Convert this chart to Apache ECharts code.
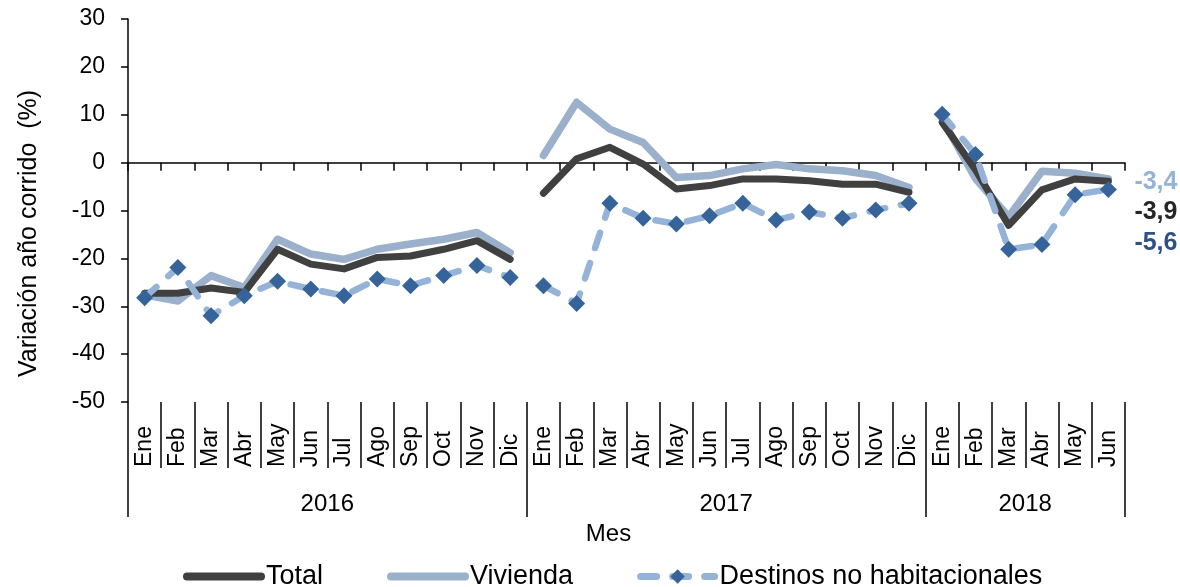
<!DOCTYPE html>
<html>
<head>
<meta charset="utf-8">
<script src="https://cdn.jsdelivr.net/npm/echarts@6/dist/echarts.min.js"></script>
<style>
html,body{margin:0;padding:0;background:#fff;}
#grafico{width:1180px;height:587px;}
</style>
</head>
<body>
<div id="grafico"></div>
<script>
//datos
var meses = ['Ene','Feb','Mar','Abr','May','Jun','Jul','Ago','Sep','Oct','Nov','Dic',
             'Ene','Feb','Mar','Abr','May','Jun','Jul','Ago','Sep','Oct','Nov','Dic',
             'Ene','Feb','Mar','Abr','May','Jun'];
var anios = ['2016','2017','2018'];
var mesesPorAnio = [12, 12, 6];
var total = [-27.3,-27.3,-26.2,-27.1,-18.1,-21.2,-22.2,-19.8,-19.5,-18.1,-16.3,-20.2,
             -6.4,0.8,3.2,-0.3,-5.5,-4.8,-3.4,-3.4,-3.8,-4.5,-4.5,-6.2,
             8.4,-1.5,-13.1,-5.7,-3.4,-3.9];
var vivienda = [-27.6,-28.9,-23.6,-26.1,-16.0,-19.1,-20.2,-18.1,-17.0,-16.0,-14.6,-18.8,
                1.5,12.6,7.0,4.2,-3.1,-2.7,-1.3,-0.4,-1.3,-1.7,-2.7,-5.2,
                9.1,-3.3,-11.3,-1.8,-2.2,-3.4];
var destinos = [-28.2,-21.9,-32.0,-27.8,-24.8,-26.4,-27.8,-24.3,-25.7,-23.6,-21.5,-24.0,
                -25.7,-29.4,-8.5,-11.6,-12.8,-11.1,-8.5,-12.0,-10.3,-11.6,-9.9,-8.5,
                10.1,1.7,-18.1,-17.1,-6.7,-5.6];

var fuente = "'Liberation Sans', Arial, sans-serif";

//anio de cada mes
var anioDeMes = [];
for(var a = 0;a<anios.length;a++){
	for(var m = 0;m<mesesPorAnio[a];m++){
		anioDeMes.push(anios[a]);
	}
}
//indice donde va la etiqueta de cada anio (mitad del grupo) y cortes entre anios
var etiquetaAnio = {};
var cortes = {};
var inicio = 0;
for(var a = 0;a<anios.length;a++){
	cortes[inicio] = true;
	etiquetaAnio[inicio + mesesPorAnio[a]/2 - 1] = true;
	inicio += mesesPorAnio[a];
}

function tramo(datos, a){
	var ini = 0;
	for(var k = 0;k<a;k++){ ini += mesesPorAnio[k]; }
	var fin = ini + mesesPorAnio[a];
	return datos.map(function(v,i){ return (i>=ini && i<fin) ? v : null; });
}

function coma(p){ return p.value.toFixed(1).replace('.', ','); }

var series = [];
function agregar(nombre, datos, estilo, etiqueta){
	for(var a = 0;a<anios.length;a++){
		var s = {
			name: nombre,
			type: 'line',
			data: tramo(datos, a),
			connectNulls: false,
			z: estilo.z,
			symbol: estilo.symbol,
			symbolSize: estilo.symbolSize,
			showSymbol: estilo.symbol != 'none',
			itemStyle: {color: estilo.punto},
			lineStyle: {color: estilo.color, width: estilo.ancho, type: estilo.tipo, cap: 'round', join: 'round'}
		};
		if(a == anios.length-1){
			s.endLabel = {
				show: true,
				formatter: coma,
				color: etiqueta.color,
				fontFamily: fuente,
				fontWeight: 'bold',
				fontSize: 25,
				distance: 8,
				offset: etiqueta.offset
			};
		}
		series.push(s);
	}
}

agregar('Vivienda', vivienda, {z:2, symbol:'none', color:'#9bb0cb', punto:'#9bb0cb', ancho:7.5, tipo:'solid'},
	{color:'#95b3d7', offset:[18, 3]});
agregar('Total', total, {z:3, symbol:'none', color:'#404040', punto:'#404040', ancho:7, tipo:'solid'},
	{color:'#262626', offset:[18, 31]});
agregar('Destinos no habitacionales', destinos, {z:4, symbol:'diamond', symbolSize:17, color:'#95b3d7', punto:'#35639a', ancho:6.5, tipo:[16,16]},
	{color:'#2d5282', offset:[18, 54]});

var myChart = echarts.init(document.getElementById('grafico'));
var option = {
	animation: false,
	textStyle: {fontFamily: fuente, color: '#000'},
	grid: {left: 128, right: 55, top: 19, bottom: 185},
	legend: {
		data: [
			{name: 'Total', itemStyle: {opacity: 0}, lineStyle: {width: 8, cap: 'round'}},
			{name: 'Vivienda', itemStyle: {opacity: 0}, lineStyle: {width: 8, cap: 'round'}},
			{name: 'Destinos no habitacionales', lineStyle: {width: 7, cap: 'round'}}
		],
		left: 178,
		top: 558,
		itemWidth: 74,
		itemHeight: 18,
		itemGap: 64,
		textStyle: {fontSize: 27, color: '#000', fontFamily: fuente}
	},
	xAxis: [
		{
			type: 'category',
			data: meses,
			position: 'bottom',
			axisLine: {onZero: true, lineStyle: {color: '#000', width: 1.5}},
			axisTick: {show: true, interval: 0, length: 8, lineStyle: {color: '#000', width: 1.5}},
			axisLabel: {show: false}
		},
		{
			type: 'category',
			data: meses,
			position: 'bottom',
			axisLine: {show: false, onZero: false},
			axisTick: {show: true, interval: 0, length: 66, lineStyle: {color: '#000', width: 1.5}},
			axisLabel: {
				interval: 0,
				rotate: 90,
				align: 'left',
				margin: 65,
				fontSize: 23,
				color: '#000',
				fontFamily: fuente
			}
		},
		{
			type: 'category',
			data: anioDeMes,
			position: 'bottom',
			axisLine: {show: false, onZero: false},
			axisTick: {
				show: true,
				interval: function(i){ return cortes[i] === true; },
				length: 115,
				lineStyle: {color: '#000', width: 1.5}
			},
			axisLabel: {
				interval: function(i){ return etiquetaAnio[i] === true; },
				margin: 90,
				padding: [0, 0, 0, 33],
				fontSize: 24,
				color: '#000',
				fontFamily: fuente
			},
			name: 'Mes',
			nameLocation: 'middle',
			nameGap: 120,
			nameTextStyle: {fontSize: 24, color: '#000', fontFamily: fuente, padding: [0, 36, 0, 0]}
		}
	],
	yAxis: {
		type: 'value',
		min: -50,
		max: 30,
		interval: 10,
		axisLine: {show: true, lineStyle: {color: '#000', width: 1.5}},
		axisTick: {show: true, length: 7, lineStyle: {color: '#000', width: 1.5}},
		splitLine: {show: false},
		axisLabel: {fontSize: 23, color: '#000', margin: 23, fontFamily: fuente},
		name: 'Variación año corrido  (%)',
		nameLocation: 'middle',
		nameRotate: 90,
		nameGap: 86,
		nameTextStyle: {fontSize: 25, color: '#000', fontFamily: fuente, padding: [0, 46, 0, 0]}
	},
	series: series
};
myChart.setOption(option);
</script>
</body>
</html>
